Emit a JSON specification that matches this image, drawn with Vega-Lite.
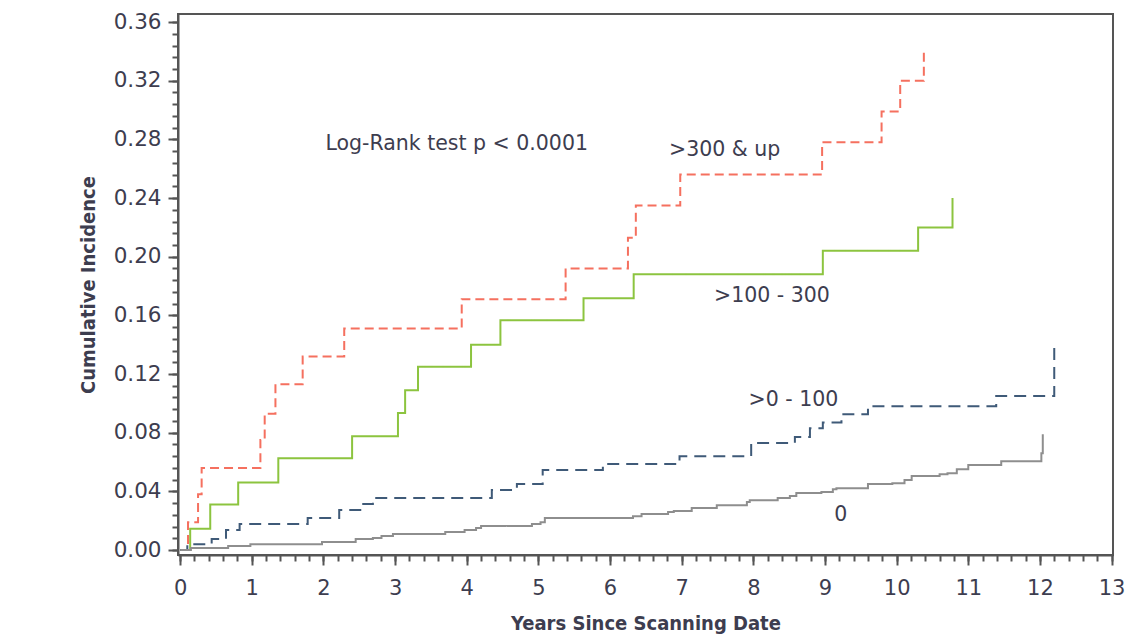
{
  "$schema": "https://vega.github.io/schema/vega-lite/v6.json",
  "width": 935,
  "height": 541,
  "autosize": {"type": "none"},
  "padding": {"left": 178, "top": 14, "right": 15, "bottom": 82},
  "background": "white",
  "config": {
    "view": {"stroke": "#555555", "strokeWidth": 2},
    "axis": {"grid": false, "domainColor": "#555555", "domainWidth": 2, "tickColor": "#555555", "tickWidth": 2, "labelColor": "#3d3d4f", "titleColor": "#3d3d4f", "labelFont": "DejaVu Sans", "titleFont": "DejaVu Sans Condensed"}
  },
  "datasets": {
    "curves": [
      {"g": ">300 & up", "t": 0, "v": 0},
      {"g": ">300 & up", "t": 0.11, "v": 0.019},
      {"g": ">300 & up", "t": 0.25, "v": 0.038},
      {"g": ">300 & up", "t": 0.30, "v": 0.056},
      {"g": ">300 & up", "t": 1.12, "v": 0.075},
      {"g": ">300 & up", "t": 1.18, "v": 0.093},
      {"g": ">300 & up", "t": 1.33, "v": 0.113},
      {"g": ">300 & up", "t": 1.71, "v": 0.132},
      {"g": ">300 & up", "t": 2.29, "v": 0.151},
      {"g": ">300 & up", "t": 3.93, "v": 0.171},
      {"g": ">300 & up", "t": 5.38, "v": 0.192},
      {"g": ">300 & up", "t": 6.25, "v": 0.213},
      {"g": ">300 & up", "t": 6.36, "v": 0.235},
      {"g": ">300 & up", "t": 6.98, "v": 0.256},
      {"g": ">300 & up", "t": 8.96, "v": 0.278},
      {"g": ">300 & up", "t": 9.79, "v": 0.299},
      {"g": ">300 & up", "t": 10.05, "v": 0.320},
      {"g": ">300 & up", "t": 10.38, "v": 0.342},
      {"g": ">100 - 300", "t": 0, "v": 0},
      {"g": ">100 - 300", "t": 0.14, "v": 0.0145},
      {"g": ">100 - 300", "t": 0.42, "v": 0.031},
      {"g": ">100 - 300", "t": 0.81, "v": 0.046},
      {"g": ">100 - 300", "t": 1.37, "v": 0.0626},
      {"g": ">100 - 300", "t": 2.40, "v": 0.0776},
      {"g": ">100 - 300", "t": 3.04, "v": 0.0934},
      {"g": ">100 - 300", "t": 3.14, "v": 0.109},
      {"g": ">100 - 300", "t": 3.32, "v": 0.125},
      {"g": ">100 - 300", "t": 4.06, "v": 0.140},
      {"g": ">100 - 300", "t": 4.47, "v": 0.1566},
      {"g": ">100 - 300", "t": 5.63, "v": 0.1716},
      {"g": ">100 - 300", "t": 6.33, "v": 0.188},
      {"g": ">100 - 300", "t": 8.97, "v": 0.204},
      {"g": ">100 - 300", "t": 10.30, "v": 0.220},
      {"g": ">100 - 300", "t": 10.78, "v": 0.240},
      {"g": ">0 - 100", "t": 0, "v": 0},
      {"g": ">0 - 100", "t": 0.10, "v": 0.004},
      {"g": ">0 - 100", "t": 0.44, "v": 0.0075},
      {"g": ">0 - 100", "t": 0.64, "v": 0.0136},
      {"g": ">0 - 100", "t": 0.83, "v": 0.0177},
      {"g": ">0 - 100", "t": 1.78, "v": 0.0218},
      {"g": ">0 - 100", "t": 2.22, "v": 0.0272},
      {"g": ">0 - 100", "t": 2.54, "v": 0.0313},
      {"g": ">0 - 100", "t": 2.69, "v": 0.0354},
      {"g": ">0 - 100", "t": 4.35, "v": 0.041},
      {"g": ">0 - 100", "t": 4.70, "v": 0.045},
      {"g": ">0 - 100", "t": 5.06, "v": 0.0545},
      {"g": ">0 - 100", "t": 5.90, "v": 0.0586},
      {"g": ">0 - 100", "t": 6.97, "v": 0.064},
      {"g": ">0 - 100", "t": 7.97, "v": 0.073},
      {"g": ">0 - 100", "t": 8.58, "v": 0.077},
      {"g": ">0 - 100", "t": 8.79, "v": 0.083},
      {"g": ">0 - 100", "t": 8.97, "v": 0.087},
      {"g": ">0 - 100", "t": 9.23, "v": 0.0926},
      {"g": ">0 - 100", "t": 9.60, "v": 0.098},
      {"g": ">0 - 100", "t": 11.39, "v": 0.105},
      {"g": ">0 - 100", "t": 12.20, "v": 0.1396},
      {"g": "0", "t": 0, "v": 0},
      {"g": "0", "t": 0.15, "v": 0.0014},
      {"g": "0", "t": 0.67, "v": 0.0027},
      {"g": "0", "t": 0.98, "v": 0.004},
      {"g": "0", "t": 1.98, "v": 0.0055},
      {"g": "0", "t": 2.45, "v": 0.0075},
      {"g": "0", "t": 2.69, "v": 0.0082},
      {"g": "0", "t": 2.81, "v": 0.0095},
      {"g": "0", "t": 2.97, "v": 0.011},
      {"g": "0", "t": 3.70, "v": 0.0123},
      {"g": "0", "t": 3.97, "v": 0.0136},
      {"g": "0", "t": 4.13, "v": 0.015},
      {"g": "0", "t": 4.20, "v": 0.0163},
      {"g": "0", "t": 4.91, "v": 0.0177},
      {"g": "0", "t": 5.03, "v": 0.019},
      {"g": "0", "t": 5.09, "v": 0.0218},
      {"g": "0", "t": 6.32, "v": 0.023},
      {"g": "0", "t": 6.44, "v": 0.0245},
      {"g": "0", "t": 6.81, "v": 0.026},
      {"g": "0", "t": 6.89, "v": 0.0266},
      {"g": "0", "t": 7.14, "v": 0.0286},
      {"g": "0", "t": 7.49, "v": 0.0306},
      {"g": "0", "t": 7.91, "v": 0.0327},
      {"g": "0", "t": 7.95, "v": 0.034},
      {"g": "0", "t": 8.34, "v": 0.0354},
      {"g": "0", "t": 8.51, "v": 0.0368},
      {"g": "0", "t": 8.60, "v": 0.0388},
      {"g": "0", "t": 8.95, "v": 0.0395},
      {"g": "0", "t": 9.11, "v": 0.0415},
      {"g": "0", "t": 9.16, "v": 0.0422},
      {"g": "0", "t": 9.60, "v": 0.045},
      {"g": "0", "t": 9.94, "v": 0.0456},
      {"g": "0", "t": 10.11, "v": 0.0477},
      {"g": "0", "t": 10.21, "v": 0.0504},
      {"g": "0", "t": 10.60, "v": 0.0517},
      {"g": "0", "t": 10.71, "v": 0.0524},
      {"g": "0", "t": 10.84, "v": 0.055},
      {"g": "0", "t": 11.00, "v": 0.058},
      {"g": "0", "t": 11.46, "v": 0.0606},
      {"g": "0", "t": 12.02, "v": 0.066},
      {"g": "0", "t": 12.04, "v": 0.079}
    ],
    "notes": [
      {"t": 3.86, "v": 0.277, "label": "Log-Rank test p < 0.0001"},
      {"t": 7.60, "v": 0.2725, "label": ">300 & up"},
      {"t": 8.26, "v": 0.173, "label": ">100 - 300"},
      {"t": 8.56, "v": 0.102, "label": ">0 - 100"},
      {"t": 9.22, "v": 0.024, "label": "0"}
    ]
  },
  "layer": [
    {
      "data": {"name": "curves"},
      "mark": {"type": "line", "interpolate": "step-after", "strokeWidth": 2},
      "encoding": {
        "x": {"field": "t", "type": "quantitative",
          "scale": {"domain": [-0.03, 13.02], "nice": false, "zero": false},
          "axis": {"orient": "bottom", "values": [0,1,2,3,4,5,6,7,8,9,10,11,12,13], "format": "d", "tickSize": 10, "labelPadding": 12, "labelFontSize": 21, "title": "Years Since Scanning Date", "titleFontSize": 20, "titleFontWeight": "bold", "titlePadding": 15}},
        "y": {"field": "v", "type": "quantitative",
          "scale": {"domain": [-0.0034, 0.3655], "nice": false, "zero": false},
          "axis": {"orient": "left", "values": [0,0.04,0.08,0.12,0.16,0.2,0.24,0.28,0.32,0.36], "format": ".2f", "tickSize": 10, "labelPadding": 7, "labelFontSize": 21.5, "title": "Cumulative Incidence", "titleFontSize": 20, "titleFontWeight": "bold", "titlePadding": 15}},
        "color": {"field": "g", "type": "nominal", "legend": null,
          "scale": {"domain": [">300 & up", ">100 - 300", ">0 - 100", "0"], "range": ["#f5705f", "#8cc43f", "#3f5a78", "#8e8e8e"]}},
        "strokeDash": {"field": "g", "type": "nominal", "legend": null,
          "scale": {"domain": [">300 & up", ">100 - 300", ">0 - 100", "0"], "range": [[9, 5], [1, 0], [12, 7], [1, 0]]}},
        "detail": {"field": "g"}
      }
    },
    {
      "data": {"name": "notes"},
      "mark": {"type": "text", "font": "DejaVu Sans", "fontSize": 20.5, "color": "#3d3d4f", "align": "center", "baseline": "middle"},
      "encoding": {
        "x": {"field": "t", "type": "quantitative",
          "axis": {"orient": "bottom", "values": [0,0.2,0.4,0.6,0.8,1,1.2,1.4,1.6,1.8,2,2.2,2.4,2.6,2.8,3,3.2,3.4,3.6,3.8,4,4.2,4.4,4.6,4.8,5,5.2,5.4,5.6,5.8,6,6.2,6.4,6.6,6.8,7,7.2,7.4,7.6,7.8,8,8.2,8.4,8.6,8.8,9,9.2,9.4,9.6,9.8,10,10.2,10.4,10.6,10.8,11,11.2,11.4,11.6,11.8,12,12.2,12.4,12.6,12.8,13], "labels": false, "domain": false, "tickSize": 6, "title": null}},
        "y": {"field": "v", "type": "quantitative",
          "axis": {"orient": "left", "values": [0,0.008,0.016,0.024,0.032,0.04,0.048,0.056,0.064,0.072,0.08,0.088,0.096,0.104,0.112,0.12,0.128,0.136,0.144,0.152,0.16,0.168,0.176,0.184,0.192,0.2,0.208,0.216,0.224,0.232,0.24,0.248,0.256,0.264,0.272,0.28,0.288,0.296,0.304,0.312,0.32,0.328,0.336,0.344,0.352,0.36], "labels": false, "domain": false, "tickSize": 6, "title": null}},
        "text": {"field": "label", "type": "nominal"}
      }
    }
  ],
  "resolve": {"axis": {"x": "independent", "y": "independent"}}
}
